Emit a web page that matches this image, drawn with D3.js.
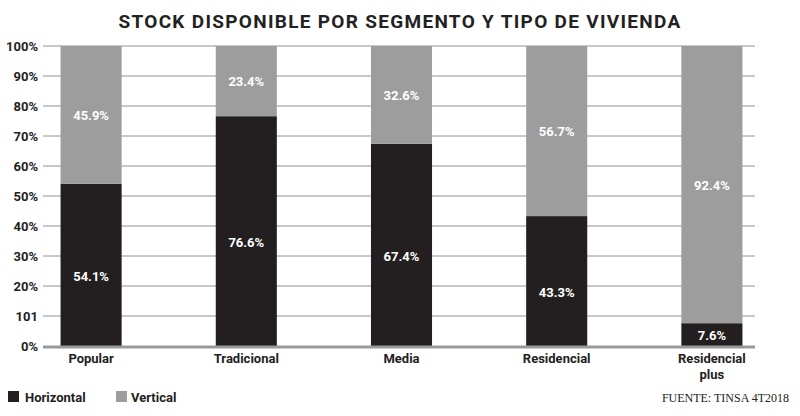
<!DOCTYPE html><html><head><meta charset="utf-8"><script src="https://cdn.jsdelivr.net/npm/d3@7"></script>
<style>body{margin:0;background:#fff}</style></head><body><svg id="c" width="800" height="416"></svg><script>
const categories=[["Popular"],["Tradicional"],["Media"],["Residencial"],["Residencial","plus"]];
const horizontal=[54.1,76.6,67.4,43.3,7.6];
const vertical=[45.9,23.4,32.6,56.7,92.4];
const tickValues=[0,10,20,30,40,50,60,70,80,90,100];
const tickLabels=["0%","101","20%","30%","40%","50%","60%","70%","80%","90%","100%"];
const svg=d3.select("#c"),F="Roboto, 'Open Sans', sans-serif";
const x=d3.scaleBand().domain(d3.range(5)).range([14,789]).paddingInner(0.6065).paddingOuter(0.3);
const y=d3.scaleLinear().domain([0,100]).range([346,46]);
svg.append("text").attr("x",400).attr("y",28).attr("text-anchor","middle").attr("font-family",F).attr("font-weight","bold").attr("font-size",19).attr("letter-spacing",1.3).attr("fill","#222").text("STOCK DISPONIBLE POR SEGMENTO Y TIPO DE VIVIENDA");
svg.append("g").selectAll("line").data(tickValues.slice(1)).join("line").attr("x1",43).attr("x2",755).attr("y1",d=>y(d)).attr("y2",d=>y(d)).attr("stroke","#777").attr("stroke-width",0.8);
svg.append("g").selectAll("text").data(tickValues).join("text").attr("x",38).attr("y",d=>y(d)+5).attr("text-anchor","end").attr("font-family",F).attr("font-weight","bold").attr("font-size",13).attr("fill","#222").text((d,i)=>tickLabels[i]);
const g=svg.append("g");
g.selectAll(".h").data(horizontal).join("rect").attr("x",(d,i)=>x(i)).attr("width",x.bandwidth()).attr("y",d=>y(d)).attr("height",d=>y(0)-y(d)).attr("fill","#231f20");
g.selectAll(".v").data(vertical).join("rect").attr("x",(d,i)=>x(i)).attr("width",x.bandwidth()).attr("y",d=>y(100)).attr("height",d=>y(0)-y(d)).attr("fill","#9d9d9d");
g.selectAll(".hl").data(horizontal).join("text").attr("x",(d,i)=>x(i)+x.bandwidth()/2).attr("y",d=>d<15?y(d/2)+5:y(d/2)+16).attr("text-anchor","middle").attr("font-family",F).attr("font-weight","bold").attr("font-size",13).attr("fill","#fff").text(d=>d.toFixed(1)+"%");
g.selectAll(".vl").data(vertical).join("text").attr("x",(d,i)=>x(i)+x.bandwidth()/2).attr("y",(d,i)=>y(horizontal[i]+d/2)+5).attr("text-anchor","middle").attr("font-family",F).attr("font-weight","bold").attr("font-size",13).attr("fill","#fff").text(d=>d.toFixed(1)+"%");
svg.append("line").attr("x1",43).attr("x2",755).attr("y1",347).attr("y2",347).attr("stroke","#999").attr("stroke-width",3);
categories.forEach((c,i)=>c.forEach((t,j)=>svg.append("text").attr("x",x(i)+x.bandwidth()/2).attr("y",363+j*16).attr("text-anchor","middle").attr("font-family",F).attr("font-weight","bold").attr("font-size",13).attr("fill","#222").text(t)));
svg.append("rect").attr("x",8).attr("y",391).attr("width",11).attr("height",11).attr("fill","#231f20");
svg.append("text").attr("x",25).attr("y",402).attr("font-family",F).attr("font-weight","bold").attr("font-size",13).attr("fill","#222").text("Horizontal");
svg.append("rect").attr("x",116).attr("y",391).attr("width",11).attr("height",11).attr("fill","#9d9d9d");
svg.append("text").attr("x",131).attr("y",402).attr("font-family",F).attr("font-weight","bold").attr("font-size",13).attr("fill","#222").text("Vertical");
svg.append("text").attr("x",789).attr("y",402).attr("text-anchor","end").attr("font-family","'Liberation Serif', serif").attr("font-size",12).attr("fill","#222").text("FUENTE: TINSA 4T2018");
</script></body></html>
